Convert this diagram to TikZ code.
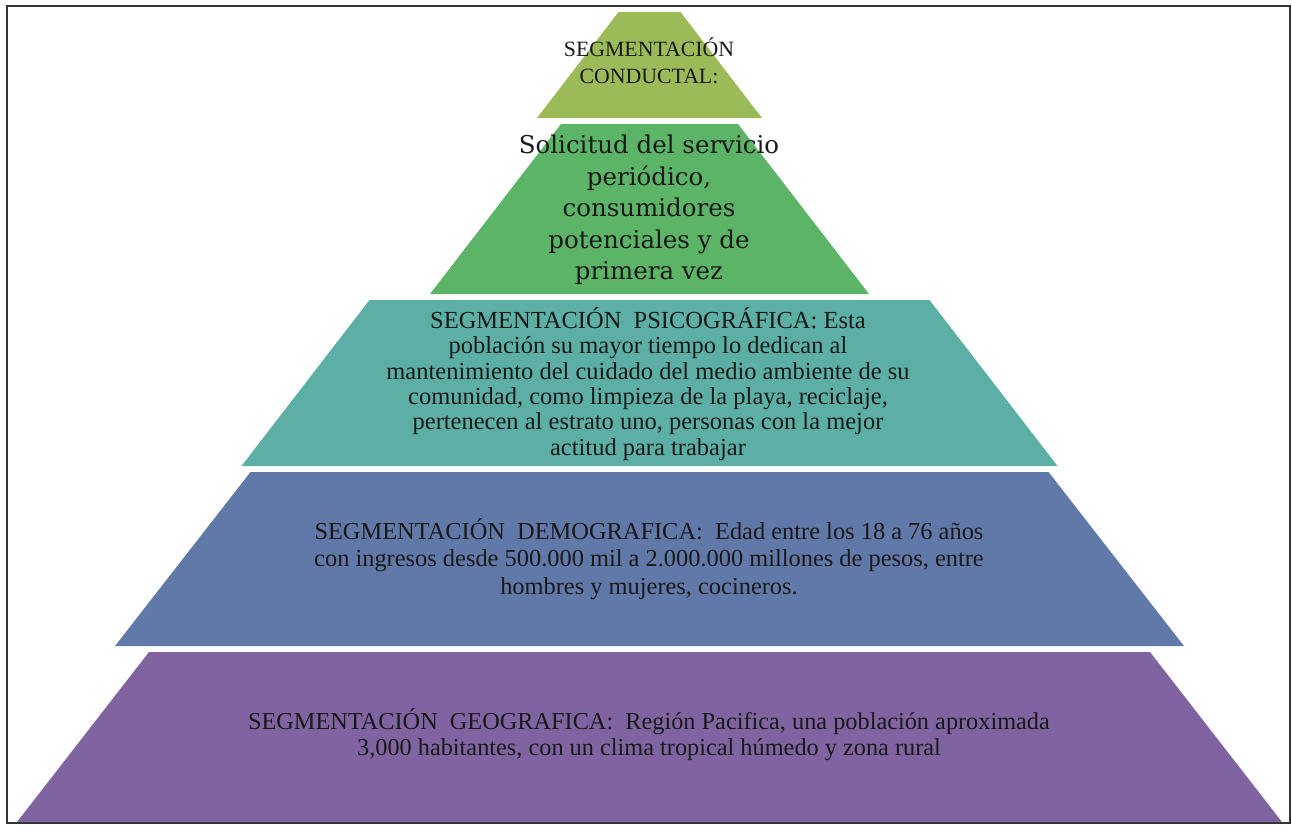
\documentclass[tikz,border=0pt]{standalone}
\usepackage{fontspec}
\setmainfont{Liberation Serif}
\newfontfamily\bookfont{DejaVu Serif}
\definecolor{conductal}{HTML}{9BBB59}
\definecolor{solicitud}{HTML}{5CB466}
\definecolor{psico}{HTML}{5BAFA5}
\definecolor{demo}{HTML}{6179A9}
\definecolor{geo}{HTML}{8064A2}
\tikzset{
	label/.style={align=center,text=black!90,inner sep=0pt},
}
\begin{document}
\begin{tikzpicture}[x=1pt,y=-1pt]
		\useasboundingbox (0,0) rectangle (1292,825);
		\draw [line width=1.5pt,black!80](7,6) rectangle (1290,823);
		% bands of the pyramid
		\fill [conductal](618.5,12) -- (680.5,12) -- (762,118) -- (537,118) -- cycle;
		\fill [solicitud](561,124) -- (738,124) -- (869,294) -- (430,294) -- cycle;
		\fill [psico](369.5,300) -- (929.5,300) -- (1057.5,466) -- (241.5,466) -- cycle;
		\fill [demo](250.5,472) -- (1048.5,472) -- (1184,646) -- (115,646) -- cycle;
		\fill [geo](149,652) -- (1150,652) -- (1282,822) -- (17,822) -- cycle;
		% texts
		\node [label,font=\fontsize{21.8}{27}\selectfont] (conductaltext) at (649,61) {SEGMENTACIÓN\\CONDUCTAL:};
		\node [label,font=\bookfont\fontsize{24.5}{31.5}\selectfont] (solicitudtext) at (649,210) {Solicitud del servicio\\periódico,\\consumidores\\potenciales y de\\primera vez};
		\node [label,font=\fontsize{24.5}{25.3}\selectfont] (psicotext) at (648,384) {SEGMENTACIÓN\ \ PSICOGRÁFICA:\ Esta\\población su mayor tiempo lo dedican al\\mantenimiento del cuidado del medio ambiente de su\\comunidad, como limpieza de la playa, reciclaje,\\pertenecen al estrato uno, personas con la mejor\\actitud para trabajar};
		\node [label,font=\fontsize{24.4}{27.5}\selectfont] (demotext) at (649,559) {SEGMENTACIÓN\ \ DEMOGRAFICA:\ \ Edad entre los 18 a 76 años\\con ingresos desde 500.000 mil a 2.000.000 millones de pesos, entre\\hombres y mujeres, cocineros.};
		\node [label,font=\fontsize{24.3}{26}\selectfont] (geotext) at (649,735) {SEGMENTACIÓN\ \ GEOGRAFICA:\ \ Región Pacifica, una población aproximada\\3,000 habitantes, con un clima tropical húmedo y zona rural};
	\end{tikzpicture}
\end{document}
